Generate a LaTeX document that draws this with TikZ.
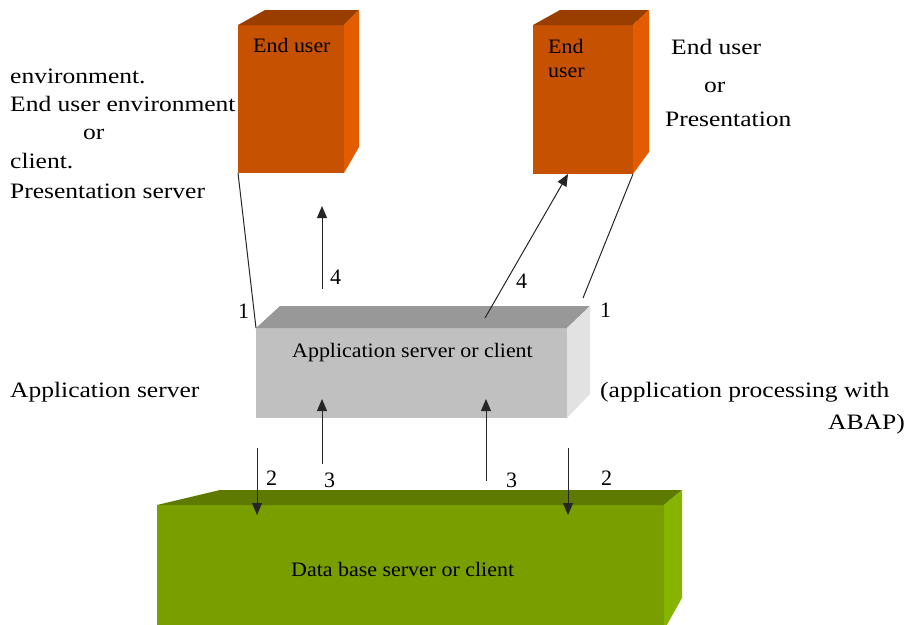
\documentclass[tikz,border=0pt]{standalone}
\usepackage{fontspec}
\setmainfont{Liberation Serif}
\newfontfamily\widefont[FakeStretch=1.16]{Liberation Serif}
\newfontfamily\boxfont[FakeStretch=1.07]{Liberation Serif}
\usetikzlibrary{arrows.meta}
\definecolor{orfront}{RGB}{198,81,0}
\definecolor{ortop}{RGB}{154,62,0}
\definecolor{orside}{RGB}{228,92,0}
\definecolor{grfront}{RGB}{192,192,192}
\definecolor{grtop}{RGB}{152,152,152}
\definecolor{grside}{RGB}{226,226,226}
\definecolor{gnfront}{RGB}{121,158,0}
\definecolor{gntop}{RGB}{94,122,0}
\definecolor{gnside}{RGB}{134,180,0}
\begin{document}
\begin{tikzpicture}[x=1pt,y=-1pt,
  side/.style={inner sep=0pt,anchor=base west,font=\widefont\fontsize{22}{26}\selectfont},
  boxtext/.style={inner sep=0pt,anchor=base west,font=\boxfont\fontsize{20.5}{24}\selectfont},
  num/.style={inner sep=0pt,anchor=base west,font=\fontsize{22}{24}\selectfont},
  conn/.style={draw=black!85,line width=1pt},
  arr/.style={conn,-{Triangle[length=12pt,width=10pt]}}]
\useasboundingbox (0,0) rectangle (907,624);
\clip (0,0) rectangle (907,624);
% ---- End user box 1
\coordinate (b1tl) at (238,25); \coordinate (b1br) at (344,173);
\coordinate (b1bl) at (238,173);
\fill[orfront] (b1tl) rectangle (b1br);
\fill[ortop] (238,25) -- (265,10) -- (359,10) -- (344,25) -- cycle;
\fill[orside] (344,25) -- (359,10) -- (359,147) -- (344,173) -- cycle;
% ---- End user box 2
\coordinate (b2tl) at (533,25); \coordinate (b2br) at (633,174);
\fill[orfront] (b2tl) rectangle (b2br);
\fill[ortop] (533,25) -- (560,10) -- (649,10) -- (633,25) -- cycle;
\fill[orside] (633,25) -- (649,10) -- (649,152) -- (633,174) -- cycle;
% ---- Application server box
\coordinate (atl) at (256,328); \coordinate (abr) at (567,418);
\fill[grfront] (atl) rectangle (abr);
\fill[grtop] (256,328) -- (280,306) -- (590,306) -- (567,328) -- cycle;
\fill[grside] (567,328) -- (590,306) -- (590,394) -- (567,418) -- cycle;
% ---- Data base box
\fill[gnfront] (157,505) rectangle (664,630);
\fill[gntop] (157,505) -- (220,490) -- (682,490) -- (664,505) -- cycle;
\fill[gnside] (664,505) -- (682,490) -- (682,598) -- (664,630) -- cycle;
% ---- texts in boxes
\node[boxtext] (t1) at (253,52) {End user};
\node[boxtext] (t2a) at (548,53) {End};
\node[boxtext] (t2b) at (548,77) {user};
\node[boxtext] (tapp) at (292,357) {Application server or client};
\node[boxtext] (tdb) at (291,576) {Data base server or client};
% ---- side texts
\node[side] (l1) at (10,83) {environment.};
\node[side] (l2) at (10,111) {End user environment};
\node[side] (l3) at (83,139) {or};
\node[side] (l4) at (10,168) {client.};
\node[side] (l5) at (10,198) {Presentation server};
\node[side] (r1) at (671,54) {End user};
\node[side] (r2) at (704,92) {or};
\node[side] (r3) at (665,126) {Presentation};
\node[side] (la) at (10,397) {Application server};
\node[side] (ra) at (600,397) {(application processing with};
\node[side,anchor=base east] (rb) at (905,429) {ABAP)};
% ---- numbers
\node[num] (n1l) at (238,318) {1};
\node[num] (n1r) at (600,317) {1};
\node[num] (n4l) at (330,284) {4};
\node[num] (n4r) at (516,288) {4};
\node[num] (n2l) at (266,485) {2};
\node[num] (n3l) at (324,487) {3};
\node[num] (n3r) at (506,487) {3};
\node[num] (n2r) at (601,485) {2};
% ---- connector coordinates
\coordinate (c1r) at (583,298);
\coordinate (a4ls) at (322,289); \coordinate (a4le) at (322,206);
\coordinate (a4rs) at (485,318); \coordinate (a4re) at (568,174);
\coordinate (a3ls) at (322,464); \coordinate (a3le) at (322,399);
\coordinate (a3rs) at (486,481); \coordinate (a3re) at (486,399);
\coordinate (a2ls) at (257,448); \coordinate (a2le) at (257,515);
\coordinate (a2rs) at (568,448); \coordinate (a2re) at (568,515);
\coordinate (b2brc) at (633,174);
% ---- connectors
\draw[conn] (b1bl) -- (atl);
\draw[conn] (b2brc) -- (c1r);
\draw[arr] (a4ls) -- (a4le);
\draw[arr] (a4rs) -- (a4re);
\draw[arr] (a3ls) -- (a3le);
\draw[arr] (a3rs) -- (a3re);
\draw[arr] (a2ls) -- (a2le);
\draw[arr] (a2rs) -- (a2re);
\end{tikzpicture}
\end{document}
